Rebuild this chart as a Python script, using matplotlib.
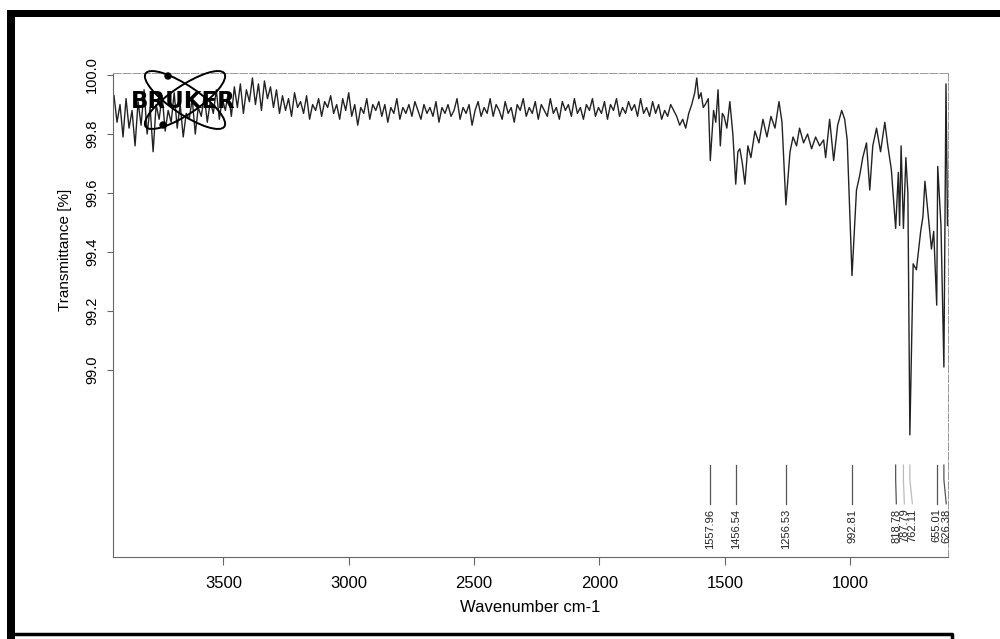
import numpy as np
import matplotlib
matplotlib.use('Agg')
import matplotlib.pyplot as plt
from matplotlib.patches import Ellipse, Circle
from matplotlib.transforms import blended_transform_factory

plt.rcParams['font.family'] = ['Liberation Sans', 'DejaVu Sans']

# noisy high-wavenumber part, read every 12 cm-1 starting at 3936
noise_start = 3936
noise_step = 12
noise_t = [
    # 3936 - 3504
    99.93, 99.84, 99.90, 99.79, 99.92, 99.82, 99.88, 99.76, 99.91, 99.83,
    99.95, 99.80, 99.89, 99.74, 99.90, 99.85, 99.93, 99.81, 99.88, 99.84,
    99.94, 99.82, 99.90, 99.79, 99.87, 99.85, 99.92, 99.80, 99.89, 99.86,
    99.93, 99.84, 99.91, 99.87, 99.95, 99.85, 99.92,
    # 3492 - 3300
    99.88, 99.94, 99.86, 99.96, 99.89, 99.97, 99.87, 99.95, 99.91, 99.99,
    99.90, 99.97, 99.88, 99.98, 99.92, 99.96, 99.89,
    # 3288 - 2904
    99.95, 99.87, 99.93, 99.88, 99.92, 99.86, 99.94, 99.89, 99.91, 99.87,
    99.93, 99.85, 99.90, 99.88, 99.92, 99.86, 99.91, 99.89, 99.93, 99.87,
    99.90, 99.85, 99.92, 99.88, 99.94, 99.86, 99.90, 99.83, 99.89, 99.87,
    99.92, 99.85, 99.90,
    # 2892 - 1704
    99.88, 99.91, 99.86, 99.90, 99.84, 99.89, 99.87, 99.92, 99.85, 99.89,
    99.87, 99.90, 99.86, 99.91, 99.88, 99.85, 99.90, 99.87, 99.89, 99.86,
    99.91, 99.84, 99.89, 99.87, 99.90, 99.86, 99.88, 99.92, 99.85, 99.89,
    99.87, 99.90, 99.83, 99.88, 99.91, 99.86, 99.89, 99.87, 99.92, 99.86,
    99.90, 99.88, 99.85, 99.91, 99.87, 99.89, 99.84, 99.90, 99.88, 99.92,
    99.86, 99.89, 99.87, 99.91, 99.85, 99.90, 99.88, 99.86, 99.92, 99.87,
    99.89, 99.85, 99.91, 99.88, 99.90, 99.86, 99.92, 99.87, 99.89, 99.85,
    99.90, 99.88, 99.92, 99.86, 99.89, 99.87, 99.91, 99.85, 99.90, 99.88,
    99.92, 99.86, 99.89, 99.87, 99.91, 99.88, 99.90, 99.86, 99.92, 99.87,
    99.89, 99.86, 99.91, 99.87, 99.90, 99.85, 99.88, 99.86, 99.90, 99.88,
]

# fingerprint region
fp_wn = [1692, 1680, 1668, 1656, 1644, 1632, 1620, 1612, 1604, 1595,
         1586, 1578, 1566, 1557.96, 1545, 1536, 1527, 1518, 1510, 1503,
         1492, 1480, 1468, 1456.54, 1448, 1440, 1430, 1420, 1408, 1396,
         1380, 1364, 1348, 1332, 1316, 1300, 1284, 1272, 1256.53, 1240,
         1228, 1214, 1202, 1186, 1170, 1154, 1138, 1122, 1106, 1098,
         1082, 1066, 1050, 1034, 1022, 1012, 992.81, 975, 962, 950,
         935, 922, 910, 895, 879, 862, 850, 836, 818.78, 808,
         803, 797, 787.79, 778, 770, 762.11, 749, 736, 719, 710,
         702, 693, 676, 667, 655.01, 651, 638, 626.38, 618, 612]
fp_t = [99.86, 99.83, 99.85, 99.82, 99.87, 99.90, 99.94, 99.99, 99.92, 99.94,
        99.89, 99.90, 99.92, 99.71, 99.88, 99.84, 99.95, 99.76, 99.87, 99.86,
        99.82, 99.91, 99.80, 99.63, 99.74, 99.75, 99.70, 99.63, 99.76, 99.72,
        99.81, 99.77, 99.85, 99.79, 99.86, 99.82, 99.91, 99.84, 99.56, 99.74,
        99.79, 99.76, 99.82, 99.77, 99.80, 99.75, 99.79, 99.76, 99.78, 99.72,
        99.85, 99.71, 99.83, 99.88, 99.85, 99.78, 99.32, 99.61, 99.66, 99.72,
        99.77, 99.61, 99.76, 99.82, 99.74, 99.84, 99.76, 99.68, 99.48, 99.67,
        99.49, 99.76, 99.48, 99.72, 99.60, 98.78, 99.36, 99.34, 99.47, 99.52,
        99.64, 99.56, 99.41, 99.47, 99.22, 99.69, 99.49, 99.01, 99.97, 99.49]

peaks = [1557.96, 1456.54, 1256.53, 992.81, 818.78, 787.79, 762.11, 655.01, 626.38]
# where the labels sit (crowded ones pushed apart, like the printout does)
label_wn = [1557.96, 1456.54, 1256.53, 992.81, 816, 784, 752, 655.01, 617]
faint_peaks = [787.79, 762.11]

x_ticks = [3500, 3000, 2500, 2000, 1500, 1000]
y_ticks = [99.0, 99.2, 99.4, 99.6, 99.8, 100.0]

noise_wn = noise_start - noise_step * np.arange(len(noise_t))
wn = np.concatenate([noise_wn, fp_wn])
trans = np.concatenate([noise_t, fp_t])

fig = plt.figure(figsize=(10, 6.39), dpi=100)
ax = fig.add_axes([0.113, 0.1283, 0.835, 0.7575])

ax.plot(wn, trans, color='#222222', lw=1.0)
ax.set_xlim(3940, 610)
ax.set_ylim(98.366, 100.007)

ax.set_xticks(x_ticks)
ax.set_xticklabels([str(t) for t in x_ticks])
ax.set_yticks(y_ticks)
ax.set_yticklabels(['{:.1f}'.format(t) for t in y_ticks], rotation=90, va='center')

ax.tick_params(axis='x', direction='out', length=6, width=0.8, color='#666666',
               labelsize=12, pad=8)
ax.tick_params(axis='y', direction='out', length=4, width=0.8, color='#666666',
               labelsize=10.5, pad=6)
for s in ['left', 'bottom']:
    ax.spines[s].set_color('#666666')
    ax.spines[s].set_linewidth(0.8)
for s in ['top', 'right']:
    ax.spines[s].set_color('#999999')
    ax.spines[s].set_linewidth(0.7)
    ax.spines[s].set_linestyle((0, (8, 2)))

ax.set_xlabel('Wavenumber cm-1', fontsize=12, labelpad=6)
fig.text(0.065, 1 - 250 / 639, 'Transmittance [%]', rotation=90,
         ha='center', va='center', fontsize=11)

# peak marks
bt = blended_transform_factory(ax.transData, ax.transAxes)
for p, lp in zip(peaks, label_wn):
    col = '#bbbbbb' if p in faint_peaks else '#555555'
    ax.plot([p, p, lp], [0.19, 0.16, 0.11], transform=bt, color=col, lw=0.9)
    ax.text(lp, 0.10, '{:.2f}'.format(p), transform=bt, rotation=90,
            ha='center', va='top', fontsize=8, color='#222222')

# overlay for scan frame and logo, in pixel units
ov = fig.add_axes([0, 0, 1, 1], zorder=3)
ov.set_xlim(0, 1000)
ov.set_ylim(639, 0)
ov.axis('off')
ov.patch.set_alpha(0)

ov.fill_between([7, 1000], 10, 17, color='black', lw=0)
ov.fill_between([7, 15], 10, 639, color='black', lw=0)
ov.plot([15, 952, 952], [634, 634, 639], color='black', lw=2.5)

for ang in [34, -34]:
    ov.add_patch(Ellipse((185, 100), 95, 28, angle=ang, fill=False,
                         ec='black', lw=1.4))
ov.add_patch(Circle((168, 76), 3, color='black'))
ov.add_patch(Circle((163, 125), 3, color='black'))
ov.text(183, 101, 'BRUKER', fontsize=16.5, fontweight='bold', family='DejaVu Sans',
        ha='center', va='center', color='black')

fig.savefig('out.png', dpi=100)
